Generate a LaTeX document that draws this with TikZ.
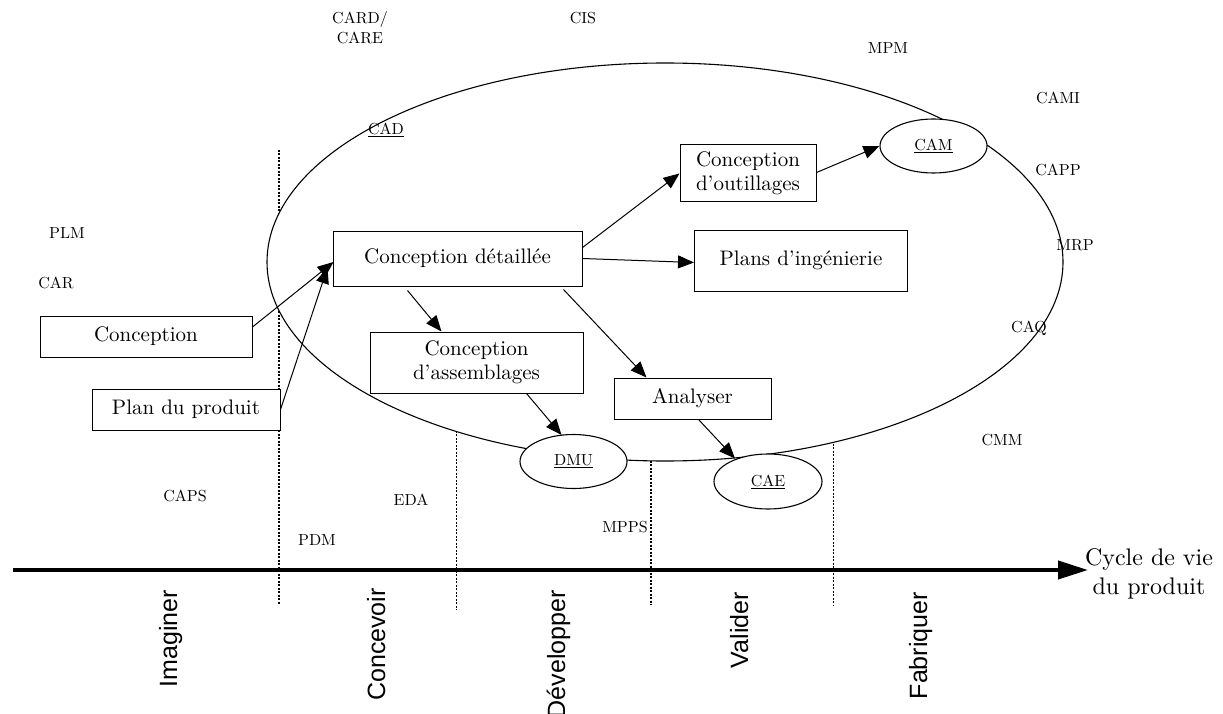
\documentclass[tikz,border=0pt]{standalone}
\usepackage{fontspec}
\setmainfont{lmroman10-regular.otf}
\newfontfamily\arialfont{Liberation Sans}
\usetikzlibrary{arrows.meta,shapes.geometric,calc}
\begin{document}
\begin{tikzpicture}[x=1pt,y=-1pt,
  box/.style={draw,line width=1pt,inner sep=0pt,align=center,font=\fontsize{21}{24}\selectfont,fill=white},
  oval/.style={draw,ellipse,line width=1.1pt,inner sep=0pt,minimum width=107pt,minimum height=54pt,fill=white,font=\fontsize{16}{19}\selectfont},
  lbl/.style={inner sep=0pt,font=\fontsize{16}{20}\selectfont,align=center},
  phase/.style={rotate=90,anchor=base east,inner sep=0pt,font=\arialfont\fontsize{25}{30}\selectfont},
  sep/.style={line width=1.2pt,dash pattern=on 2pt off 1.5pt},
  arr/.style={line width=1pt,-{Triangle[length=16pt,width=13pt]}},
]
\useasboundingbox (0,0) rectangle (1223,714);
% phase separators
\coordinate (s1t) at (279,150); \coordinate (s1b) at (279,605);
\coordinate (s2t) at (456.5,420); \coordinate (s2b) at (456.5,610);
\coordinate (s3t) at (651,450); \coordinate (s3b) at (651,605);
\coordinate (s4t) at (833.5,440); \coordinate (s4b) at (833.5,605);
\draw[sep] (s1t) -- (s1b);
\draw[sep] (s2t) -- (s2b);
\draw[sep] (s3t) -- (s3b);
\draw[sep] (s4t) -- (s4b);
% big ellipse
\node[draw,ellipse,line width=1.1pt,fill=white,inner sep=0pt,minimum width=796pt,minimum height=398pt] (big) at (665,262) {};
% axis
\coordinate (a0) at (13,570);
\coordinate (a1) at (1088,570);
\draw[line width=4pt,-{Triangle[length=30pt,width=18pt]}] (a0) -- (a1);
\node[font=\fontsize{24}{29}\selectfont,align=center,inner sep=0pt] (cyc) at (1149,574) {Cycle de vie\\du produit};
% phases
\node[phase] (p1) at (177,590) {Imaginer};
\node[phase] (p2) at (385,588) {Concevoir};
\node[phase] (p3) at (565,590) {Développer};
\node[phase] (p4) at (748,592) {Valider};
\node[phase] (p5) at (927,592) {Fabriquer};
% small labels
\node[lbl] (card) at (360,28) {CARD/\\CARE};
\node[lbl] (cis) at (583,18) {CIS};
\node[lbl] (cad) at (386,130) {\underline{CAD}};
\node[lbl] (plm) at (67,233) {PLM};
\node[lbl] (car) at (56,283) {CAR};
\node[lbl] (mpm) at (888,48) {MPM};
\node[lbl] (cami) at (1058,98) {CAMI};
\node[lbl] (capp) at (1058,170) {CAPP};
\node[lbl] (mrp) at (1075,245) {MRP};
\node[lbl] (caq) at (1029,328) {CAQ};
\node[lbl] (cmm) at (1002,440) {CMM};
\node[lbl] (caps) at (185,496) {CAPS};
\node[lbl] (eda) at (411,500) {EDA};
\node[lbl] (pdm) at (317,540) {PDM};
\node[lbl] (mpps) at (625,527) {MPPS};
% boxes
\node[box,minimum width=249pt,minimum height=55pt] (cd) at (457.5,258.5) {Conception détaillée};
\node[box,minimum width=136pt,minimum height=57pt] (out) at (748,173.5) {Conception\\d'outillages};
\node[box,minimum width=213pt,minimum height=61pt] (plans) at (801,260.5) {Plans d'ingénierie};
\node[box,minimum width=213pt,minimum height=61pt] (asm) at (476.5,362.5) {Conception\\d'assemblages};
\node[box,minimum width=157pt,minimum height=41pt] (ana) at (692.5,398.5) {Analyser};
\node[box,minimum width=212pt,minimum height=41pt] (con) at (146,336.5) {Conception};
\node[box,minimum width=188pt,minimum height=41pt] (pp) at (186,409.5) {Plan du produit};
% ovals
\node[oval] (cam) at (933.5,146) {\underline{CAM}};
\node[oval] (dmu) at (573.5,461.5) {\underline{DMU}};
\node[oval,minimum width=108pt,minimum height=55pt] (cae) at (768,481.5) {\underline{CAE}};
% arrows
\draw[arr] ($(con.east)+(0,-9.5)$) -- ($(cd.west)+(1,3.5)$);
\draw[arr] (pp.east) -- ($(cd.west)+(-5,9)$);
\draw[arr] ($(cd.east)+(0,-11)$) -- (out.west);
\draw[arr] (cd.east) -- ($(plans.west)+(0,2)$);
\draw[arr] ($(cd.south)+(-50,4)$) -- ($(asm.north)+(-35,0)$);
\draw[arr] ($(cd.south)+(106,3)$) -- ($(ana.north)+(-46,0)$);
\draw[arr] ($(asm.south)+(50,0)$) -- ($(dmu.north)+(-12,1)$);
\draw[arr] ($(ana.south)+(6,0)$) -- ($(cae.north)+(-33,5)$);
\draw[arr] ($(out.east)+(0,-1)$) -- (cam.west);
\end{tikzpicture}
\end{document}
